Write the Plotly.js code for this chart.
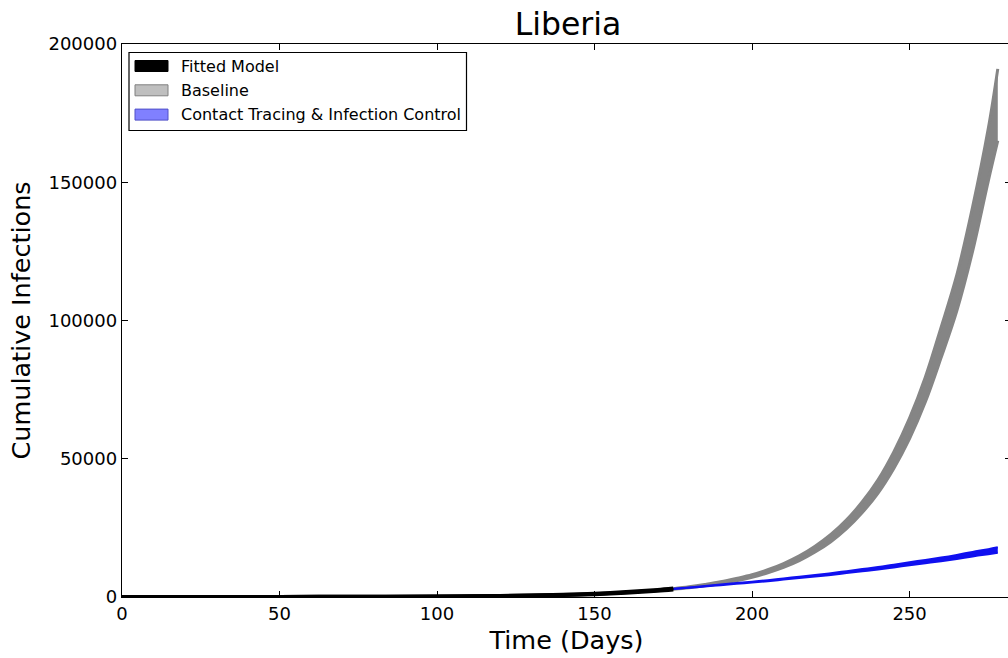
<!DOCTYPE html>
<html>
<head>
<meta charset="utf-8">
<script src="https://cdn.plot.ly/plotly-3.0.1.min.js"></script>
<style>
html,body{margin:0;padding:0;overflow:hidden;background:#fff;width:1008px;height:658px;}
#chart{width:1014px;height:658px;}
</style>
</head>
<body>
<div id="chart"></div>
<script>
// Fitted model (days 0-175)
const fitDays = [0,25,50,75,100,110,120,130,140,150,155,160,165,170,175];
const fitLo   = [4,14,32,74,168,242,354,502,725,1020,1255,1535,1860,2230,2700];
const fitHi   = [6,16,38,86,192,278,406,578,835,1180,1445,1765,2140,2570,3100];

// Projections (days 175-278)
const projDays = [175,180,185,190,195,200,205,210,215,220,225,230,235,240,245,250,255,260,265,270,275,278];
const baseLo = [2800,3350,4050,4900,5900,7150,8750,10700,13150,16250,20000,24700,30550,37600,46500,57300,70500,86500,103500,125000,150500,165000];
const baseHi = [3000,3700,4550,5500,6700,8050,9850,12100,14850,18350,22600,27900,34450,42400,52500,64700,79500,97500,116500,141000,169500,191000];
const ctLo = [2850,3330,3810,4290,4770,5250,5720,6290,6860,7430,7990,8650,9310,9960,10700,11450,12190,12930,13760,14680,15500,16000];
const ctHi = [2950,3470,3990,4510,5030,5550,6080,6710,7340,7970,8610,9350,10090,10840,11700,12550,13410,14270,15240,16320,17300,18000];

const seriesNames = ['Fitted Model','Baseline','Contact Tracing & Infection Control'];
const legendFill = ['#000000','#bfbfbf','#8080ff'];
const legendEdge = ['#000000','#808080','#5050c8'];
const xTicks = [0,50,100,150,200,250];
const yTicks = [0,50000,100000,150000,200000];

function band(x, lo, hi, color, w){
  return [
    {x:x, y:lo, type:'scatter', mode:'lines', line:{color:color, width:w, shape:'spline'}, showlegend:false, hoverinfo:'skip'},
    {x:x, y:hi, type:'scatter', mode:'lines', fill:'tonexty', fillcolor:color, line:{color:color, width:w, shape:'spline'}, showlegend:false, hoverinfo:'skip'}
  ];
}

const data = [].concat(
  band(projDays, baseLo, baseHi, '#858585', 3),
  band(projDays, ctLo, ctHi, '#1010f0', 2),
  band(fitDays, fitLo, fitHi, '#000000', 4)
);

// plot area geometry (pixels) for the legend box
const PL = 122, PT = 44, PW = 889, PH = 553;
const px = X => (X - PL) / PW;
const py = Y => (PT + PH - Y) / PH;

const shapes = [{type:'rect', xref:'paper', yref:'paper', x0:px(129), x1:px(466.5), y0:py(130.5), y1:py(52.5),
  line:{color:'#000', width:1.2}, fillcolor:'#fff', layer:'above'}];
const annotations = [];
seriesNames.forEach((n, i) => {
  const cy = 66 + i * 24.3;
  shapes.push({type:'rect', xref:'paper', yref:'paper', x0:px(135), x1:px(168), y0:py(cy + 5.5), y1:py(cy - 5.5),
    line:{color:legendEdge[i], width:1}, fillcolor:legendFill[i], layer:'above'});
  annotations.push({xref:'paper', yref:'paper', x:px(179), y:py(cy), xanchor:'left', yanchor:'middle', showarrow:false,
    text:n, font:{family:'DejaVu Sans', size:16, color:'#000'}});
});

const axisCommon = {
  showgrid:false, zeroline:false, showline:true, linecolor:'#000', linewidth:1.2,
  mirror:'ticks', ticks:'inside', ticklen:6, tickcolor:'#000', tickwidth:1,
  tickfont:{family:'DejaVu Sans', size:18, color:'#000'}
};

const layout = {
  width:1014, height:658,
  margin:{l:PL, r:1014 - PL - PW, t:PT, b:658 - PT - PH},
  paper_bgcolor:'#fff', plot_bgcolor:'#fff',
  font:{family:'DejaVu Sans', color:'#000'},
  showlegend:false,
  title:{text:'Liberia', font:{family:'DejaVu Sans', size:31.5, color:'#000'}, x:568/1014, xanchor:'center', y:1-24/658, yanchor:'middle'},
  xaxis:Object.assign({}, axisCommon, {
    range:[0,282.2], tickvals:xTicks, ticktext:xTicks.map(String),
    title:{text:'Time (Days)', font:{family:'DejaVu Sans', size:25.5, color:'#000'}, standoff:8}
  }),
  yaxis:Object.assign({}, axisCommon, {
    range:[0,200000], tickvals:yTicks, ticktext:yTicks.map(String),
    title:{text:'Cumulative Infections', font:{family:'DejaVu Sans', size:25.5, color:'#000'}, standoff:10}
  }),
  shapes:shapes,
  annotations:annotations
};

Plotly.newPlot('chart', data, layout, {displayModeBar:false, staticPlot:true});
</script>
</body>
</html>
